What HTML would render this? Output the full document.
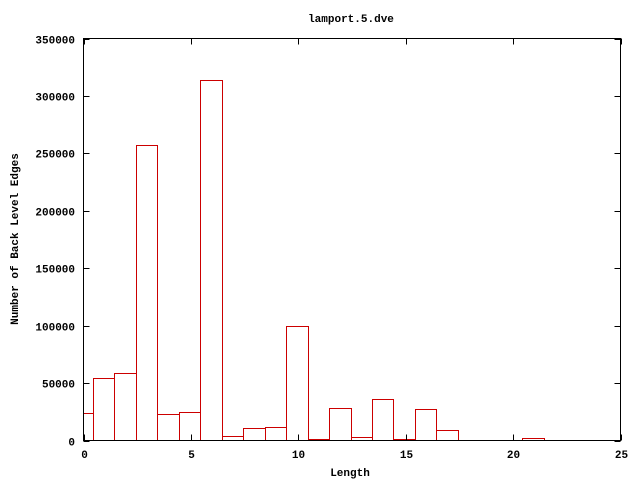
<!DOCTYPE html>
<html><head><style>body{margin:0;background:#fff}</style></head><body>
<svg width="640" height="480" xmlns="http://www.w3.org/2000/svg" font-family="Liberation Mono, monospace" font-size="11" font-weight="bold">
<rect width="640" height="480" fill="#fff"/>
<text x="351" y="22" text-anchor="middle">lamport.5.dve</text>
<g id="bars" fill="none" stroke="#cc0000" stroke-width="1"></g>
<g stroke="#000" stroke-width="1" fill="none">
<rect x="83.5" y="38.5" width="537" height="402"/>
</g>
<g id="ticks" stroke="#000"></g>
<g id="labels"></g>
<text x="350" y="476" text-anchor="middle">Length</text>
<text transform="translate(18,239) rotate(-90)" text-anchor="middle">Number of Back Level Edges</text>
<script>
var ns="http://www.w3.org/2000/svg";
function X(v){return 83+v*21.48;}
function Y(v){return 440.5-v*402/350000;}
var data={0:24000,1:54000,2:59000,3:257000,4:23500,5:24500,6:314000,7:4000,8:11000,9:12000,10:100000,11:1000,12:28000,13:3000,14:36000,15:1000,16:27000,17:9500,21:2500};
var g=document.getElementById('bars');
for(var k in data){var i=+k;var x0=Math.max(0,i-0.5),x1=i+0.5;
var r=document.createElementNS(ns,'rect');
var xa=(i==0?83:Math.round(X(x0)-1))+0.5,xb=Math.round(X(x1)-1)+0.5,yt=Math.round(Y(data[k]))+0.5;
r.setAttribute('x',xa);r.setAttribute('y',yt);r.setAttribute('width',xb-xa);r.setAttribute('height',440.5-yt);g.appendChild(r);}
var t=document.getElementById('ticks'),l=document.getElementById('labels');
function line(x1,y1,x2,y2){var e=document.createElementNS(ns,'line');e.setAttribute('x1',x1);e.setAttribute('y1',y1);e.setAttribute('x2',x2);e.setAttribute('y2',y2);t.appendChild(e);}
function txt(x,y,s,a){var e=document.createElementNS(ns,'text');e.setAttribute('x',x);e.setAttribute('y',y);e.setAttribute('text-anchor',a);e.textContent=s;l.appendChild(e);}
for(var v=0;v<=350000;v+=50000){var y=Math.round(Y(v))+0.5;line(83.5,y,89.5,y);line(620.5,y,614.5,y);txt(75,y+4,String(v),'end');}
for(var v=0;v<=25;v+=5){var x=Math.round(83.5+v*21.48)+0.5;line(x,440.5,x,434.5);line(x,38.5,x,44.5);txt(x,458,String(v),'middle');}
</script>
</svg>
</body></html>
